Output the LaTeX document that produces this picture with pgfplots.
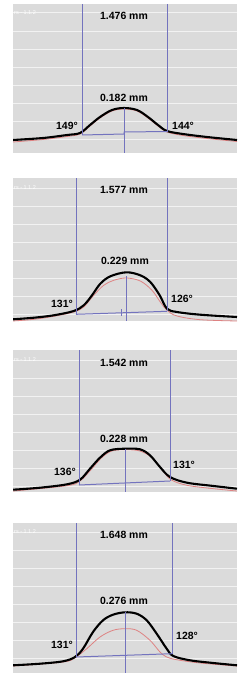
\documentclass[border=0pt]{standalone}
\usepackage{pgfplots}
\pgfplotsset{compat=1.18}
\usepackage{fontspec}
\setmainfont{Liberation Sans}
\definecolor{bggray}{RGB}{219,219,219}
\definecolor{gridc}{RGB}{242,242,242}
\definecolor{lblue}{RGB}{115,115,190}
\definecolor{lred}{RGB}{222,130,130}
\pgfplotsset{
  panel/.style={
    width=224bp, scale only axis,
    xmin=0, xmax=224, ymin=0,
    axis line style={draw=none},
    xtick=\empty, yticklabels={}, major tick length=0pt,
    ymajorgrids, grid style={gridc, line width=0.9pt},
    axis background/.style={fill=bggray},
    clip=true,
  },
  blkc/.style={black, line width=2.1pt, smooth, tension=0.55},
  redc/.style={lred, line width=0.8pt, smooth, tension=0.55},
  bluec/.style={lblue, line width=1pt},
}
\newcommand{\lab}[1]{{\fontsize{10.5}{12}\selectfont\bfseries #1}}
\newcommand{\tagt}{{\fontsize{5.5}{6}\selectfont\color{white}rs - 1.1.2}}
\begin{document}
\begin{tikzpicture}
\path[use as bounding box] (0,0) rectangle (244bp,-673bp);
% Panel 1: top 4, h 149
\begin{axis}[panel, height=149bp, ymax=149, at={(13bp,-153bp)}, anchor=south west,
  ytick={14,32,50,68,86,104,122,140.5}]
\addplot[redc] coordinates {(0,11) (30,13.5) (54,16.5) (67,19) (77,27) (87,35) (99,42) (111,44) (124,42) (135,35) (145,27) (154,21) (170,17.5) (194,14.5) (224,11.5)};
\addplot[blkc] coordinates {(0,13) (30,15) (54,18) (67,20) (77,28) (87,36) (99,43) (111,45) (124,43) (135,36) (145,28) (154,22) (170,19) (194,16) (224,13)};
\addplot[bluec] coordinates {(69,149) (69,18)};
\addplot[bluec] coordinates {(154,149) (154,21)};
\addplot[bluec] coordinates {(69,18) (111,19) (111,21) (154,21.5)};
\addplot[bluec] coordinates {(111,45) (111,0)};
\node at (axis cs:111,137) {\lab{1.476 mm}};
\node at (axis cs:111,55) {\lab{0.182 mm}};
\node[anchor=east, inner sep=0pt] at (axis cs:65,27) {\lab{149°}};
\node[anchor=west, inner sep=0pt] at (axis cs:159,27) {\lab{144°}};
\node[anchor=west, inner sep=1pt] at (axis cs:0,140.5) {\tagt};
\end{axis}
% Panel 2: top 178, h 143
\begin{axis}[panel, height=143bp, ymax=143, at={(13bp,-321bp)}, anchor=south west,
  ytick={7,25,43,61,79,97,115,133}]
\addplot[redc] coordinates {(0,0) (21,1.7) (40.7,4.7) (60.7,9) (70.7,14) (80.7,25.7) (90.7,35.7) (100.7,40.7) (113.3,43) (127.3,40) (139,30.7) (147.3,19) (154,10.7) (164,5) (187.3,1.3) (224,0)};
\addplot[blkc] coordinates {(0,1.7) (21,3.3) (40.7,5.7) (60.7,10) (70.7,15.7) (79,25.7) (87.3,37.3) (97.3,44.7) (113.3,48.7) (127.3,45.7) (137.3,39) (146.7,25.7) (154,12.3) (164,9) (187.3,6.3) (224,4)};
\addplot[bluec] coordinates {(63,143) (63,6.7)};
\addplot[bluec] coordinates {(154,143) (154,9.7)};
\addplot[bluec] coordinates {(63,6.7) (154,9.7)};
\addplot[bluec] coordinates {(113,45) (113,0)};
\addplot[bluec] coordinates {(108,5.5) (108,12)};
\node at (axis cs:111,131) {\lab{1.577 mm}};
\node at (axis cs:112,60) {\lab{0.229 mm}};
\node[anchor=east, inner sep=0pt] at (axis cs:60,17) {\lab{131°}};
\node[anchor=west, inner sep=0pt] at (axis cs:158,22) {\lab{126°}};
\node[anchor=west, inner sep=1pt] at (axis cs:0,133) {\tagt};
\end{axis}
% Panel 3: top 350, h 142
\begin{axis}[panel, height=142bp, ymax=142, at={(13bp,-492bp)}, anchor=south west,
  ytick={6,24,42,60,78,96,114,132}]
\addplot[redc] coordinates {(0,1) (54,6.3) (67,11) (78,22.3) (88.7,34.3) (98.7,41) (112,42.3) (127,41) (139,34.3) (149,22.3) (158,12.3) (174,6.7) (200.7,3.3) (224,1)};
\addplot[blkc] coordinates {(0,2.3) (27,4.3) (54,7.7) (67,12.3) (77,23.3) (87,34.3) (97,41.7) (112,43.3) (127,42.7) (137,36.7) (147,25) (157,15) (174,9.3) (200.7,6) (224,3.3)};
\addplot[bluec] coordinates {(66,142) (66,7)};
\addplot[bluec] coordinates {(157,142) (157,11)};
\addplot[bluec] coordinates {(66,7) (157,11)};
\addplot[bluec] coordinates {(112,43) (112,0)};
\node at (axis cs:111,129) {\lab{1.542 mm}};
\node at (axis cs:111,53) {\lab{0.228 mm}};
\node[anchor=east, inner sep=0pt] at (axis cs:63,20) {\lab{136°}};
\node[anchor=west, inner sep=0pt] at (axis cs:160,27) {\lab{131°}};
\node[anchor=west, inner sep=1pt] at (axis cs:0,132) {\tagt};
\end{axis}
% Panel 4: top 523, h 150
\begin{axis}[panel, height=150bp, ymax=150, at={(13bp,-673bp)}, anchor=south west,
  ytick={15,33,51,69,87,105,123,141}]
\addplot[redc] coordinates {(0,7) (50,11) (62,15.3) (73.7,24.3) (87,36) (100,42.7) (112,44.3) (123.7,42.7) (137,32.7) (147,21) (153.7,16) (163.7,13.3) (187,10) (224,7)};
\addplot[blkc] coordinates {(0,7.7) (27,9.3) (50,11.7) (62,16) (70,24.3) (80,41) (90,52.7) (100,58.3) (112,60.7) (123.7,59.3) (133.7,52.7) (143.7,39.3) (153.7,24.3) (160.3,17) (177,12.7) (200.3,10) (224,7.7)};
\addplot[bluec] coordinates {(63,150) (63,16)};
\addplot[bluec] coordinates {(159,150) (159,19.3)};
\addplot[bluec] coordinates {(63,16) (159,19.3)};
\addplot[bluec] coordinates {(112,60.7) (112,0)};
\node at (axis cs:111,138) {\lab{1.648 mm}};
\node at (axis cs:111,72) {\lab{0.276 mm}};
\node[anchor=east, inner sep=0pt] at (axis cs:60,28) {\lab{131°}};
\node[anchor=west, inner sep=0pt] at (axis cs:163,37) {\lab{128°}};
\node[anchor=west, inner sep=1pt] at (axis cs:0,141) {\tagt};
\end{axis}
\end{tikzpicture}
\end{document}
